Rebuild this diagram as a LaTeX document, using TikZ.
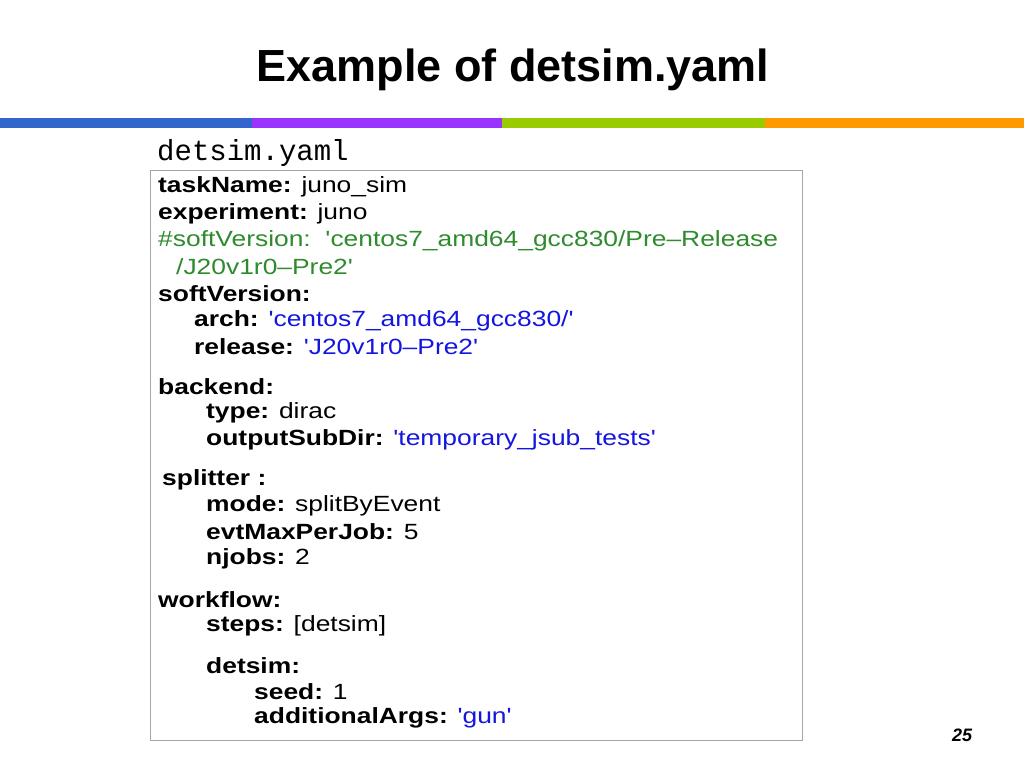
\documentclass[tikz,border=0pt]{standalone}
\usepackage{fontspec}
\setmainfont{Liberation Sans}
\setmonofont{Liberation Mono}
\newfontfamily\widesans[FakeStretch=1.2]{Liberation Sans}
\definecolor{cblue}{HTML}{3366CC}
\definecolor{cpurp}{HTML}{9933FF}
\definecolor{cgreen}{HTML}{99CC00}
\definecolor{corange}{HTML}{FF9900}
\definecolor{gtxt}{HTML}{2E8B2E}
\definecolor{btxt}{HTML}{1515E0}
\begin{document}
\begin{tikzpicture}[x=1pt,y=-1pt,
 ln/.style={anchor=west,inner sep=0pt,font=\widesans\fontsize{22}{24}\selectfont}]
\useasboundingbox (0,0) rectangle (1024,768);
\fill[white] (0,0) rectangle (1024,768);
\node (title) at (513,70) {\fontsize{45}{48}\selectfont\bfseries Example of detsim.yaml};
\fill[cblue] (0,118) rectangle (252,128);
\fill[cpurp] (252,118) rectangle (502,128);
\fill[cgreen] (502,118) rectangle (765,128);
\fill[corange] (765,118) rectangle (1024,128);
\node[anchor=west,inner sep=0pt] (fname) at (157,153) {\fontsize{29}{30}\selectfont\ttfamily detsim.yaml};
\draw[gray!70,line width=1pt] (150,170) rectangle (802,740);
\node[ln] (l1) at (158,187) {\textbf{taskName:} juno\_sim};
\node[ln] (l2) at (158,214) {\textbf{experiment:} juno};
\node[ln,text=gtxt] (l3) at (158,241) {\#softVersion:\ \ 'centos7\_amd64\_gcc830/Pre{\textendash}Release};
\node[ln,text=gtxt] (l4) at (176,267) {/J20v1r0{\textendash}Pre2'};
\node[ln] (l5) at (158,294) {\textbf{softVersion:}};
\node[ln] (l6) at (194,321) {\textbf{arch:} \textcolor{btxt}{'centos7\_amd64\_gcc830/'}};
\node[ln] (l7) at (194,347) {\textbf{release:} \textcolor{btxt}{'J20v1r0{\textendash}Pre2'}};
\node[ln] (l8) at (158,387) {\textbf{backend:}};
\node[ln] (l9) at (206,413) {\textbf{type:} dirac};
\node[ln] (l10) at (206,440) {\textbf{outputSubDir:} \textcolor{btxt}{'temporary\_jsub\_tests'}};
\node[ln] (l11) at (162,480) {\textbf{splitter :}};
\node[ln] (l12) at (206,506) {\textbf{mode:} splitByEvent};
\node[ln] (l13) at (206,532) {\textbf{evtMaxPerJob:} 5};
\node[ln] (l14) at (206,559) {\textbf{njobs:} 2};
\node[ln] (l15) at (158,600) {\textbf{workflow:}};
\node[ln] (l16) at (206,626) {\textbf{steps:} [detsim]};
\node[ln] (l17) at (206,666) {\textbf{detsim:}};
\node[ln] (l18) at (254,692) {\textbf{seed:} 1};
\node[ln] (l19) at (254,718) {\textbf{additionalArgs:} \textcolor{btxt}{'gun'}};
\node (pg) at (962,735) {\fontsize{18}{20}\selectfont\bfseries\itshape 25};
\end{tikzpicture}
\end{document}
